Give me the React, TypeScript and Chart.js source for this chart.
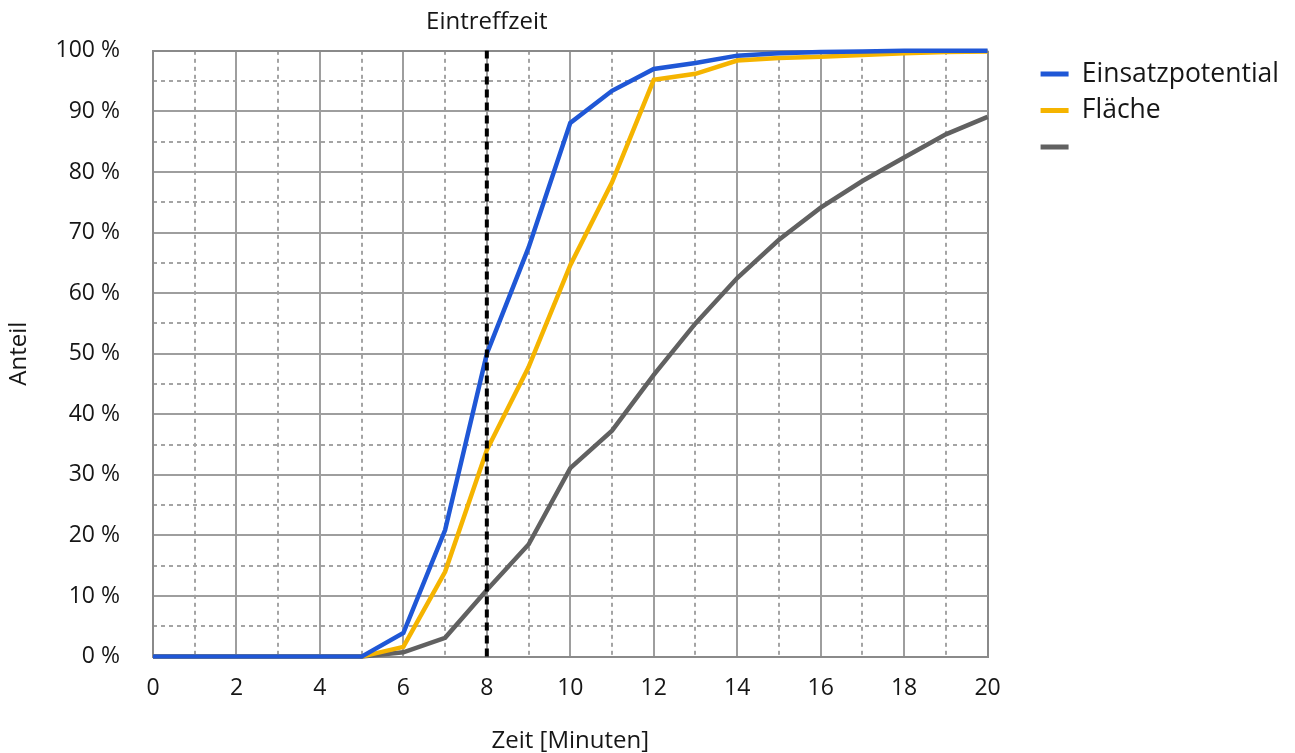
import React, { useEffect, useRef } from 'react';
import { Chart, registerables } from 'chart.js';

Chart.register(...registerables);

// ---- data ----
const minutes = [0, 1, 2, 3, 4, 5, 6, 7, 8, 9, 10, 11, 12, 13, 14, 15, 16, 17, 18, 19, 20];
const einsatzpotential = [0, 0, 0, 0, 0, 0, 3.9, 20.9, 50, 67.5, 88.1, 93.4, 97, 98, 99.2, 99.6, 99.8, 99.9, 100, 100, 100];
const flaeche = [0, 0, 0, 0, 0, 0, 1.6, 14, 34.1, 47.8, 64.6, 78.3, 95.2, 96.2, 98.4, 98.8, 99.0, 99.3, 99.6, 99.8, 99.9];
const dritteReihe = [0, 0, 0, 0, 0, 0, 0.7, 3.1, 11, 18.5, 31.1, 37.3, 46.5, 55, 62.5, 68.8, 74.1, 78.5, 82.4, 86.2, 89.1];
const seriesLabels = ['Einsatzpotential', 'Fläche', ''];
const eintreffzeit = 8;
const eintreffzeitLabel = 'Eintreffzeit';
const xTitle = 'Zeit [Minuten]';
const yTitle = 'Anteil';
const xMin = 0;
const xMax = 20;
const yMin = 0;
const yMax = 100;

export default function App() {
  const ref = useRef<HTMLCanvasElement>(null);

  useEffect(() => {
    if (!ref.current) return;
    const FONT = "'Open Sans', 'Noto Sans', sans-serif";
    const TEXT = '#161616';
    const MAJOR = '#9e9e9e';
    const EDGE = '#8a8a8a';
    const MINOR = '#a4a4a4';
    const toPts = (vals: number[]) => minutes.map((m, i) => ({ x: m, y: vals[i] }));

    const chart = new Chart(ref.current, {
      type: 'line',
      data: {
        datasets: [
          { label: seriesLabels[0], data: toPts(einsatzpotential), borderColor: '#1f57d6', backgroundColor: '#1f57d6', borderWidth: 4.5, pointRadius: 0, tension: 0, clip: false as any },
          { label: seriesLabels[1], data: toPts(flaeche), borderColor: '#f5b400', backgroundColor: '#f5b400', borderWidth: 4.5, pointRadius: 0, tension: 0, clip: false as any },
          { label: seriesLabels[2], data: toPts(dritteReihe), borderColor: '#616161', backgroundColor: '#616161', borderWidth: 4.5, pointRadius: 0, tension: 0, clip: false as any },
          { label: eintreffzeitLabel, data: [{ x: eintreffzeit, y: yMin }, { x: eintreffzeit, y: yMax }], borderColor: '#000000', backgroundColor: '#000000', borderWidth: 4, borderDash: [8, 5], pointRadius: 0, order: -1, clip: false as any },
        ],
      },
      options: {
        responsive: false,
        animation: false,
        events: [],
        layout: { padding: { left: 0, right: 6, top: -6, bottom: -3 } },
        plugins: {
          tooltip: { enabled: false },
          legend: {
            position: 'right',
            align: 'start',
            fullSize: false,
            maxWidth: 320,
            labels: {
              boxWidth: 28,
              boxHeight: 5,
              padding: 10,
              color: TEXT,
              font: { family: FONT, size: 26.5 },
              generateLabels: (c: any) =>
                (Chart.defaults.plugins.legend.labels.generateLabels as any)(c)
                  .filter((l: any) => l.datasetIndex !== 3)
                  .map((l: any) => ({ ...l, lineWidth: 0, lineDash: [] })),
            },
          },
        },
        scales: {
          xMinor: {
            type: 'linear', position: 'bottom', min: xMin, max: xMax,
            ticks: { display: false, stepSize: 1 },
            grid: { color: (ctx: any) => (ctx.tick && Math.abs(ctx.tick.value % 2) === 1 ? MINOR : 'rgba(0,0,0,0)'), lineWidth: 2, drawTicks: false },
            border: { display: false, dash: [4, 4] },
          },
          x: {
            type: 'linear', position: 'bottom', min: xMin, max: xMax,
            ticks: { stepSize: 2, padding: 18, color: TEXT, font: { family: FONT, size: 23 }, maxRotation: 0 },
            grid: { color: (ctx: any) => (ctx.tick && (ctx.tick.value === xMin || ctx.tick.value === xMax) ? EDGE : MAJOR), lineWidth: 2, drawTicks: false },
            border: { color: EDGE, width: 2 },
            title: { display: true, text: xTitle, color: TEXT, font: { family: FONT, size: 24 }, padding: { top: 7, bottom: 0 } },
          },
          xTop: {
            type: 'linear', position: 'top', min: xMin, max: xMax,
            afterBuildTicks: (s: any) => { s.ticks = [{ value: eintreffzeit }]; },
            ticks: { callback: () => eintreffzeitLabel, padding: 14, color: TEXT, font: { family: FONT, size: 24 }, maxRotation: 0, autoSkip: false },
            grid: { display: false, drawTicks: false },
            border: { display: false },
          },
          yMinor: {
            type: 'linear', position: 'left', min: yMin, max: yMax,
            ticks: { display: false, stepSize: 5 },
            grid: { color: (ctx: any) => (ctx.tick && Math.abs(ctx.tick.value % 10) === 5 ? MINOR : 'rgba(0,0,0,0)'), lineWidth: 2, drawTicks: false },
            border: { display: false, dash: [4, 4] },
          },
          y: {
            type: 'linear', position: 'left', min: yMin, max: yMax,
            afterFit: (s: any) => { s.width = 153; },
            ticks: { stepSize: 10, padding: 33, color: TEXT, font: { family: FONT, size: 23 }, callback: (v: any) => v + ' %' },
            grid: { color: (ctx: any) => (ctx.tick && (ctx.tick.value === yMin || ctx.tick.value === yMax) ? EDGE : MAJOR), lineWidth: 2, drawTicks: false },
            border: { color: EDGE, width: 2 },
            title: { display: true, text: yTitle, color: TEXT, font: { family: FONT, size: 24 }, padding: { top: 5, bottom: 5 } },
          },
          yPad: {
            type: 'linear', position: 'right', display: true,
            afterFit: (s: any) => { s.width = 43; },
            ticks: { display: false },
            grid: { display: false, drawTicks: false },
            border: { display: false },
          },
        },
      } as any,
    });
    return () => chart.destroy();
  }, []);

  return (
    <div style={{ position: 'fixed', left: 0, top: 0, width: 1295, height: 753, background: '#ffffff' }}>
      <canvas ref={ref} width={1295} height={753} style={{ display: 'block' }} />
    </div>
  );
}
